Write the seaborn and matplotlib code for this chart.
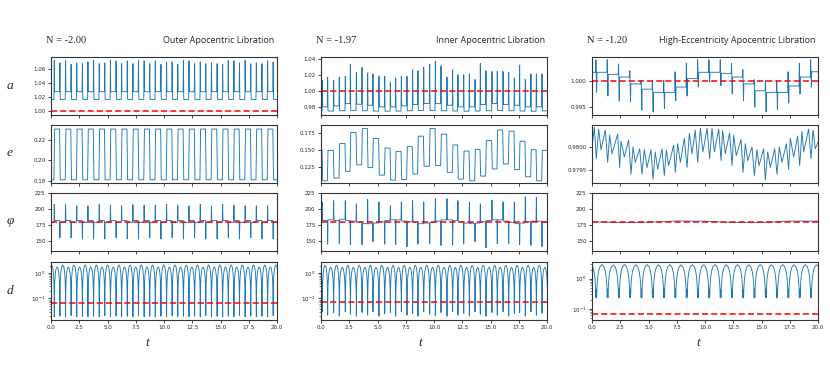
import numpy as np
import seaborn as sns
import matplotlib
matplotlib.use("Agg")
import matplotlib.pyplot as plt
from matplotlib.ticker import ScalarFormatter

# ---------------- data ----------------
# encounter times (spikes in a / phi, jumps in e, dips in d)
enc1 = [0.29, 0.79, 1.29, 1.78, 2.28, 2.78, 3.27, 3.77, 4.27, 4.76, 5.26, 5.76, 6.25, 6.75,
        7.25, 7.74, 8.24, 8.74, 9.23, 9.73, 10.23, 10.72, 11.22, 11.72, 12.21, 12.71, 13.21,
        13.70, 14.20, 14.70, 15.19, 15.69, 16.19, 16.68, 17.18, 17.68, 18.17, 18.67, 19.17, 19.66]
enc2 = [0.12, 0.59, 1.12, 1.62, 2.15, 2.60, 3.13, 3.63, 4.13, 4.60, 5.13, 5.64, 6.14, 6.61,
        7.11, 7.61, 8.11, 8.58, 9.09, 9.62, 10.12, 10.62, 11.15, 11.65, 12.12, 12.63, 13.13,
        13.63, 14.10, 14.60, 15.13, 15.60, 16.11, 16.61, 17.11, 17.58, 18.08, 18.58, 19.06, 19.56]
enc3 = [0.38, 1.38, 2.38, 3.38, 4.38, 5.38, 6.38, 7.38, 8.38, 9.38, 10.38, 11.38, 12.38,
        13.38, 14.38, 15.38, 16.38, 17.38, 18.38, 19.38]

# column 1: outer apocentric libration
a1_levels = [1.016, 1.027] * 20 + [1.016]
a1_peaks = [1.072, 1.068, 1.072, 1.066, 1.068, 1.067, 1.0695, 1.072, 1.067, 1.068,
            1.072, 1.071, 1.067, 1.071, 1.067, 1.072, 1.071, 1.067, 1.071, 1.066,
            1.0695, 1.0695, 1.066, 1.072, 1.071, 1.067, 1.0695, 1.067, 1.068, 1.067,
            1.066, 1.072, 1.071, 1.068, 1.072, 1.067, 1.068, 1.067, 1.071, 1.0695]
e1_levels = [0.181, 0.231] * 20 + [0.181]
phi1_levels = [179, 182] * 20 + [179]
phi1_peaks = [207, 155, 207, 155, 205, 153, 205, 153, 207, 153, 206, 155, 205, 153, 207, 153,
              206, 155, 206, 153, 207, 155, 206, 153, 205, 155, 207, 153, 205, 153, 207, 155,
              206, 153, 205, 155, 205, 153, 205, 153]
d1_dips = [-0.21] + enc1 + [20.16]
d1_mins = [0.02, 0.019, 0.02, 0.019, 0.021, 0.019, 0.02, 0.019, 0.02, 0.019, 0.021, 0.019,
           0.02, 0.019, 0.02, 0.019, 0.021, 0.019, 0.02, 0.019, 0.02, 0.019, 0.021, 0.019,
           0.02, 0.019, 0.02, 0.019, 0.021, 0.019, 0.02, 0.019, 0.02, 0.019, 0.021, 0.019,
           0.02, 0.019, 0.02, 0.019, 0.021, 0.02]
d1_peaks = [2.1, 1.75] * 20 + [2.1]

# column 2: inner apocentric libration
a2_levels = [0.9750, 0.9800, 0.9748, 0.9812, 0.9752, 0.9841, 0.9755, 0.9833, 0.9752, 0.9820,
             0.9748, 0.9800, 0.9746, 0.9800, 0.9748, 0.9812, 0.9752, 0.9829, 0.9755, 0.9841,
             0.9756, 0.9841, 0.9752, 0.9820, 0.9748, 0.9800, 0.9746, 0.9800, 0.9748, 0.9829,
             0.9752, 0.9841, 0.9755, 0.9829, 0.9752, 0.9820, 0.9748, 0.9800, 0.9746, 0.9800,
             0.9750]
a2_peaks = [1.013, 1.017, 1.013, 1.017, 1.018, 1.033, 1.023, 1.029, 1.022, 1.021,
            1.018, 1.018, 1.011, 1.016, 1.018, 1.018, 1.026, 1.025, 1.029, 1.033,
            1.037, 1.031, 1.017, 1.026, 1.020, 1.020, 1.021, 1.014, 1.034, 1.025,
            1.024, 1.024, 1.024, 1.023, 1.016, 1.032, 1.014, 1.021, 1.021, 1.021]
e2_levels = [0.151, 0.105, 0.150, 0.109, 0.160, 0.119, 0.1765, 0.1285, 0.1825, 0.1245,
             0.1675, 0.1135, 0.1535, 0.106, 0.1485, 0.107, 0.1555, 0.115, 0.171, 0.1265,
             0.1825, 0.1275, 0.174, 0.1175, 0.158, 0.1075, 0.149, 0.105, 0.1515, 0.112,
             0.1645, 0.1225, 0.180, 0.130, 0.1785, 0.1215, 0.1635, 0.111, 0.151, 0.105, 0.150]
phi2_levels = [180, 182, 183, 182, 184, 182, 181, 179, 177, 177, 178, 180, 182, 183, 183,
               181, 180, 179, 177, 178, 179, 181, 183, 183, 182, 180, 178, 177, 178, 180,
               182, 183, 183, 181, 179, 177, 178, 180, 181, 181, 180]
phi2_peaks = [211, 145, 213, 146, 213, 144, 208, 144, 215, 149, 211, 145, 205, 144, 211, 141,
              213, 145, 211, 146, 216, 143, 216, 144, 213, 145, 211, 149, 208, 139, 214, 146,
              211, 146, 211, 144, 219, 143, 218, 141]
d2_dips = [-0.38] + enc2 + [20.06]
d2_mins = [0.025, 0.03, 0.022, 0.028, 0.02, 0.03, 0.024, 0.02, 0.028, 0.022, 0.03, 0.02,
           0.025, 0.028, 0.02, 0.03, 0.022, 0.026, 0.02, 0.03, 0.024, 0.021, 0.028, 0.02,
           0.03, 0.022, 0.026, 0.02, 0.03, 0.024, 0.02, 0.028, 0.022, 0.03, 0.02, 0.025,
           0.028, 0.02, 0.03, 0.022, 0.026, 0.025]
d2_peaks = [1.7, 2.05] * 20 + [1.7]

# column 3: high-eccentricity apocentric libration
a3_levels = [1.0016, 1.0016, 1.0012, 1.0007, 0.9994, 0.9984, 0.9978, 0.9978, 0.9988, 1.0004,
             1.0016, 1.0016, 1.0014, 1.0007, 0.9994, 0.9981, 0.9978, 0.9978, 0.9990, 1.0007,
             1.0017]
a3_up = [1.0040, 1.0040, 1.0032, 1.0019, 1.0001, 1.0001, 1.0001, 1.0017, 1.0033, 1.0040,
         1.0040, 1.0040, 1.0033, 1.0021, 1.0002, 1.0001, 1.0001, 1.0017, 1.0033, 1.0040]
a3_down = [0.9978, 0.9971, 0.9962, 0.9960, 0.9944, 0.9941, 0.9947, 0.9962, 0.9971, 0.9988,
           0.9997, 0.9991, 0.9975, 0.9962, 0.9950, 0.9941, 0.9945, 0.9958, 0.9975, 0.9988]
e3_t = [0.0, 0.21, 0.38, 0.59, 0.80, 1.18, 1.39, 1.56, 1.77, 2.27, 2.45, 2.57, 2.86, 3.24,
        3.45, 3.63, 3.83, 4.22, 4.42, 4.63, 4.87, 5.22, 5.40, 5.60, 5.81, 6.19, 6.40, 6.58,
        6.78, 7.23, 7.37, 7.58, 7.82, 8.17, 8.41, 8.61, 8.85, 9.14, 9.35, 9.59, 9.82, 10.18,
        10.41, 10.62, 10.83, 11.21, 11.42, 11.56, 11.80, 12.18, 12.39, 12.54, 12.77, 13.19,
        13.36, 13.57, 13.78, 14.16, 14.37, 14.60, 14.78, 15.19, 15.34, 15.55, 15.78, 16.17,
        16.37, 16.58, 16.81, 17.20, 17.40, 17.55, 17.85, 18.20, 18.38, 18.58, 18.73, 19.17,
        19.38, 19.56, 19.76, 20.0]
e3_val = [0.98000, 0.98043, 0.97974, 0.98039, 0.97994, 0.98037, 0.97966, 0.98026, 0.97985,
          0.98028, 0.97955, 0.98013, 0.97978, 0.98015, 0.97940, 0.98000, 0.97966, 0.97996,
          0.97940, 0.97994, 0.97955, 0.97994, 0.97929, 0.97989, 0.97951, 0.97996, 0.97937,
          0.97993, 0.97959, 0.98004, 0.97944, 0.98007, 0.97966, 0.98019, 0.97955, 0.98030,
          0.97985, 0.98037, 0.97966, 0.98041, 0.97989, 0.98041, 0.97974, 0.98041, 0.97989,
          0.98039, 0.97970, 0.98036, 0.97985, 0.98031, 0.97959, 0.98026, 0.97981, 0.98016,
          0.97944, 0.98007, 0.97970, 0.98000, 0.97937, 0.97994, 0.97959, 0.97996, 0.97927,
          0.97989, 0.97955, 0.97996, 0.97940, 0.98000, 0.97966, 0.98007, 0.97951, 0.98019,
          0.97978, 0.98024, 0.97959, 0.98034, 0.97989, 0.98039, 0.97974, 0.98037, 0.97996,
          0.98010]
phi3_t = [0, 2.5, 5, 7.5, 10, 12.5, 15, 17.5, 20]
phi3_val = [180.0, 178.6, 179.2, 181.2, 180.8, 178.8, 178.8, 181.0, 181.0]
d3_dips = [-0.62] + enc3 + [20.38]
d3_mins = [0.45] * 22
d3_peaks = [2.9, 2.95, 2.9, 2.95, 2.9, 2.95, 2.9, 2.95, 2.9, 2.95, 2.9,
            2.95, 2.9, 2.95, 2.9, 2.95, 2.9, 2.95, 2.9, 2.95, 2.9]

# arch shape of d between two encounters (fraction of the arch maximum)
arch_phase = [0.03, 0.08, 0.15, 0.25, 0.35, 0.5, 0.65, 0.75, 0.85, 0.92, 0.97]
arch_frac = [0.094, 0.249, 0.454, 0.707, 0.891, 1.0, 0.891, 0.707, 0.454, 0.249, 0.094]
arch3_phase = [0.03, 0.07, 0.12, 0.2, 0.32, 0.5, 0.68, 0.8, 0.88, 0.93, 0.97]
arch3_frac = [0.08, 0.2, 0.36, 0.59, 0.85, 1.0, 0.85, 0.59, 0.36, 0.2, 0.08]

titles_left = ["N = -2.00", "N = -1.97", "N = -1.20"]
titles_right = ["Outer Apocentric Libration", "Inner Apocentric Libration",
                "High-Eccentricity Apocentric Libration"]
ylabels = ["a", "e", "φ", "d"]
xticks = [0, 2.5, 5, 7.5, 10, 12.5, 15, 17.5, 20]
d_ref = [0.065, 0.07, 0.065]


# ---------------- helpers to turn the read values into line vertices ----------------
def spikes(enc, levels, peaks, w=0.03):
    xs, ys = [0.0], [levels[0]]
    for i, t in enumerate(enc):
        xs += [t - w, t, t + w]
        ys += [levels[i], peaks[i], levels[i + 1]]
    xs.append(20.0)
    ys.append(levels[-1])
    return xs, ys


def square(enc, levels, w=0.03):
    xs, ys = [0.0], [levels[0]]
    for i, t in enumerate(enc):
        xs += [t - w, t + w]
        ys += [levels[i], levels[i + 1]]
    xs.append(20.0)
    ys.append(levels[-1])
    return xs, ys


def bispikes(enc, levels, ups, downs, w=0.03):
    xs, ys = [0.0], [levels[0]]
    for i, t in enumerate(enc):
        xs += [t - 2 * w, t - w, t + w, t + 2 * w]
        ys += [levels[i], ups[i], downs[i], levels[i + 1]]
    xs.append(20.0)
    ys.append(levels[-1])
    return xs, ys


def arches(dips, mins, peaks, phases, fracs):
    xs, ys = [], []
    for k in range(len(dips) - 1):
        t0, t1 = dips[k], dips[k + 1]
        xs.append(t0)
        ys.append(mins[k])
        for p, f in zip(phases, fracs):
            xs.append(t0 + p * (t1 - t0))
            ys.append(peaks[k] * f)
    xs.append(dips[-1])
    ys.append(mins[-1])
    return xs, ys


curves = [
    [spikes(enc1, a1_levels, a1_peaks), spikes(enc2, a2_levels, a2_peaks),
     bispikes(enc3, a3_levels, a3_up, a3_down)],
    [square(enc1, e1_levels), square(enc2, e2_levels), (e3_t, e3_val)],
    [spikes(enc1, phi1_levels, phi1_peaks), spikes(enc2, phi2_levels, phi2_peaks),
     (phi3_t, phi3_val)],
    [arches(d1_dips, d1_mins, d1_peaks, arch_phase, arch_frac),
     arches(d2_dips, d2_mins, d2_peaks, arch_phase, arch_frac),
     arches(d3_dips, d3_mins, d3_peaks, arch3_phase, arch3_frac)],
]
ref_lines = [[1.0, 1.0, 1.0], [None, None, None], [180, 180, 180], d_ref]
ylims = [[(0.9945, 1.0765), (0.9705, 1.042), (0.9936, 1.0045)],
         [(0.1783, 0.235), (0.1025, 0.1875), (0.97922, 0.98048)],
         [(135, 225), (135, 225), (135, 225)],
         [(0.0148, 2.75), (0.0148, 2.75), (0.044, 3.6)]]
yticks = [[[1.00, 1.02, 1.04, 1.06], [0.98, 1.00, 1.02, 1.04], [0.995, 1.000]],
          [[0.18, 0.20, 0.22], [0.125, 0.150, 0.175], [0.9795, 0.9800]],
          [[150, 175, 200, 225]] * 3,
          [None, None, None]]

# ---------------- figure ----------------
sns.set_style("ticks")
plt.rcParams["font.family"] = ["DejaVu Sans"]

W, H = 830, 365
fig = plt.figure(figsize=(W / 100, H / 100), dpi=100)
col_left = [51, 321, 592]
row_top = [57, 125, 193, 262]
ax_w, ax_h = 226, 57.5
blue = "#1f77b4"

for r in range(4):
    for c in range(3):
        ax = fig.add_axes([col_left[c] / W, 1 - (row_top[r] + ax_h) / H, ax_w / W, ax_h / H])
        xs, ys = curves[r][c]
        if r == 3:
            ax.set_yscale("log")
        sns.lineplot(x=np.asarray(xs), y=np.asarray(ys), ax=ax, sort=False, estimator=None,
                     color=blue, linewidth=0.65)
        if ref_lines[r][c] is not None:
            ax.axhline(ref_lines[r][c], color="red", linestyle="--", linewidth=1.1, dashes=(4, 2))
        ax.set_xlim(0, 20)
        ax.set_ylim(*ylims[r][c])
        ax.set_xticks(xticks)
        if yticks[r][c] is not None:
            ax.set_yticks(yticks[r][c])
            fmt = ScalarFormatter(useOffset=False)
            ax.yaxis.set_major_formatter(fmt)
        ax.tick_params(labelsize=4, length=2.5, width=0.6, pad=1.5)
        ax.tick_params(which="minor", length=1.5, width=0.4)
        if r < 3:
            ax.tick_params(labelbottom=False)
        for s in ax.spines.values():
            s.set_linewidth(0.8)
            s.set_color("#333333")
        ax.set_xlabel("")
        ax.set_ylabel("")
        if r == 0:
            ax.text(-0.02, 1.29, titles_left[c], transform=ax.transAxes, ha="left", va="center",
                    fontsize=7.5, family=["Liberation Serif", "DejaVu Serif"])
            ax.text(0.99, 1.29, titles_right[c], transform=ax.transAxes, ha="right", va="center",
                    fontsize=6.5, family=["Open Sans", "DejaVu Sans"])

ylabel_y = [86, 153, 221, 291]
for lab, y in zip(ylabels, ylabel_y):
    fig.text(10 / W, 1 - y / H, lab, ha="center", va="center", fontsize=9.5, style="italic",
             family=["Liberation Serif", "DejaVu Serif"])
for x in [147, 420, 698]:
    fig.text(x / W, 1 - 343 / H, "t", ha="center", va="center", fontsize=9.5, style="italic",
             family=["Liberation Serif", "DejaVu Serif"])

fig.savefig("out.png", dpi=100)
